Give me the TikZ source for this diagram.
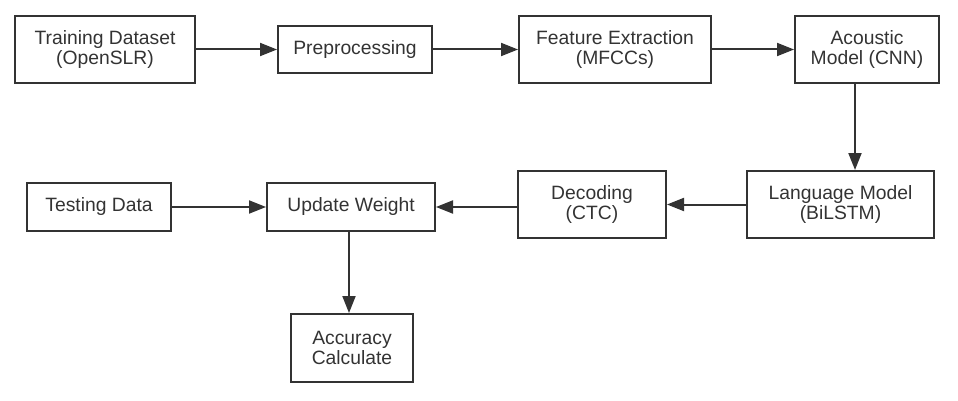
\documentclass[tikz,border=0pt]{standalone}
\usepackage{fontspec}
\setmainfont{Liberation Sans}
\usetikzlibrary{arrows.meta}
\definecolor{ink}{HTML}{333333}
\begin{document}
\begin{tikzpicture}[x=1pt,y=-1pt,
  box/.style={draw=ink,line width=2pt,text=ink,align=center,inner sep=0pt,
    font=\fontsize{19.3}{19.5}\selectfont},
  arr/.style={draw=ink,line width=2pt,-{Triangle[length=17pt,width=13pt]}}]
\useasboundingbox (0,0) rectangle (958,401);
\node[box,minimum width=180pt,minimum height=67pt] (train) at (105,49.5) {Training Dataset\\(OpenSLR)};
\node[box,minimum width=154pt,minimum height=47pt] (prep) at (355,49.5) {Preprocessing};
\node[box,minimum width=192pt,minimum height=67pt] (feat) at (615,49.5) {Feature Extraction\\(MFCCs)};
\node[box,minimum width=144pt,minimum height=67pt] (ac) at (867,49.5) {Acoustic\\Model (CNN)};
\node[box,minimum width=187pt,minimum height=67pt] (lm) at (840.5,204.5) {Language Model\\(BiLSTM)};
\node[box,minimum width=148pt,minimum height=67pt] (dec) at (592,204.5) {Decoding\\(CTC)};
\node[box,minimum width=144pt,minimum height=48pt] (test) at (99,207) {Testing Data};
\node[box,minimum width=168pt,minimum height=48pt] (uw) at (351,207) {Update Weight};
\node[box,minimum width=122pt,minimum height=68pt] (acc) at (352,348) {Accuracy\\Calculate};
\draw[arr] (train) -- (prep);
\draw[arr] (prep) -- (feat);
\draw[arr] (feat) -- (ac);
\draw[arr] ([xshift=-12pt]ac.south) -- ([xshift=-12pt]ac.south |- lm.north);
\draw[arr] (lm) -- (dec);
\draw[arr] (uw.east -| dec.west) -- (uw.east);
\draw[arr] (test) -- (uw);
\draw[arr] ([xshift=-2pt]uw.south) -- ([xshift=-2pt]uw.south |- acc.north);
\end{tikzpicture}
\end{document}
